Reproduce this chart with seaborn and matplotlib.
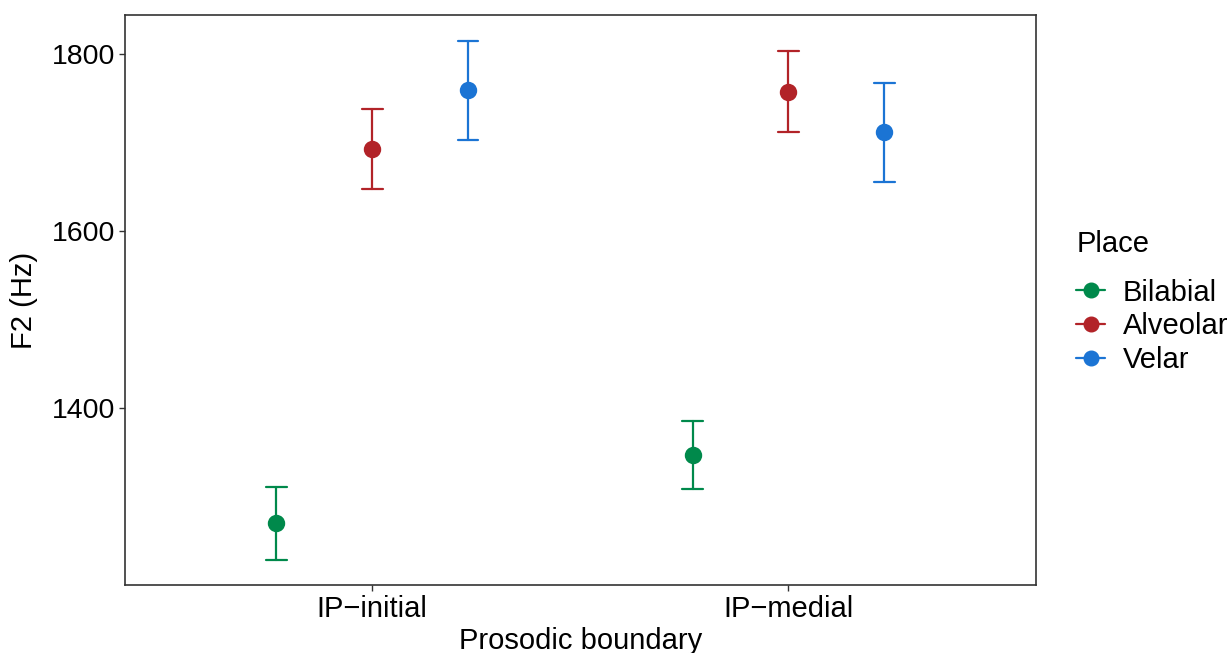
import numpy as np
import pandas as pd
import seaborn as sns
import matplotlib
matplotlib.use("Agg")
import matplotlib.pyplot as plt
from matplotlib.lines import Line2D

boundary = ["IP\u2212initial", "IP\u2212medial"]
places = ["Bilabial", "Alveolar", "Velar"]
# means / interval bounds per boundary, in place order
mean_initial = [1270, 1693, 1759]
lo_initial = [1228, 1647, 1703]
hi_initial = [1311, 1738, 1815]
mean_medial = [1347, 1757, 1712]
lo_medial = [1309, 1712, 1655]
hi_medial = [1385, 1803, 1767]
palette = ["#00894B", "#B22328", "#1B74D4"]

rows = []
for b, m, lo, hi in [(boundary[0], mean_initial, lo_initial, hi_initial),
                     (boundary[1], mean_medial, lo_medial, hi_medial)]:
    for p, mv, lv, hv in zip(places, m, lo, hi):
        for v in (lv, mv, hv):
            rows.append({"Prosodic boundary": b, "Place": p, "F2": v})
df = pd.DataFrame(rows)

sns.set_style("white")
plt.rcParams["font.family"] = ["Liberation Sans", "DejaVu Sans"]
plt.rcParams["text.color"] = "black"

fig = plt.figure(figsize=(12.27, 6.53), dpi=100)
ax = fig.add_axes([125/1227, 1-585/653, (1036-125)/1227, (585-15)/653])

sns.pointplot(data=df, x="Prosodic boundary", y="F2", hue="Place",
              order=boundary, hue_order=places, palette=palette,
              estimator="median", errorbar=lambda x: (x.min(), x.max()),
              dodge=0.46, linestyle="none", capsize=0.05,
              markersize=10.5, err_kws={"linewidth": 1.6},
              legend=False, ax=ax)

ax.set_xlim(-0.594, 1.595)
ax.set_ylim(1200, 1844)
ax.set_yticks([1400, 1600, 1800])
ax.set_xlabel("Prosodic boundary", fontsize=21, labelpad=3, color="black")
ax.set_ylabel("F2 (Hz)", fontsize=21, labelpad=10, color="black")
ax.tick_params(axis="x", labelsize=21, pad=3)
ax.tick_params(axis="y", labelsize=20.5, pad=3)
ax.tick_params(axis="both", length=4, width=1, color="#333333",
               labelcolor="black", direction="out", bottom=True, left=True)
for s in ax.spines.values():
    s.set_visible(True)
    s.set_color("#333333")
    s.set_linewidth(1.2)

handles = [Line2D([0], [0], color=c, marker="o", markersize=10.5, linewidth=1.6)
           for c in palette]
leg = fig.legend(handles, places, title="Place", loc="center left",
                 bbox_to_anchor=(1050/1227, 1-302/653), frameon=False,
                 fontsize=21, title_fontsize=21, handlelength=1.0,
                 handletextpad=0.6, labelspacing=0.2, alignment="left",
                 labelcolor="black")
leg.get_title().set_color("black")
leg._legend_box.sep = 15

fig.savefig("out.png", dpi=100)
